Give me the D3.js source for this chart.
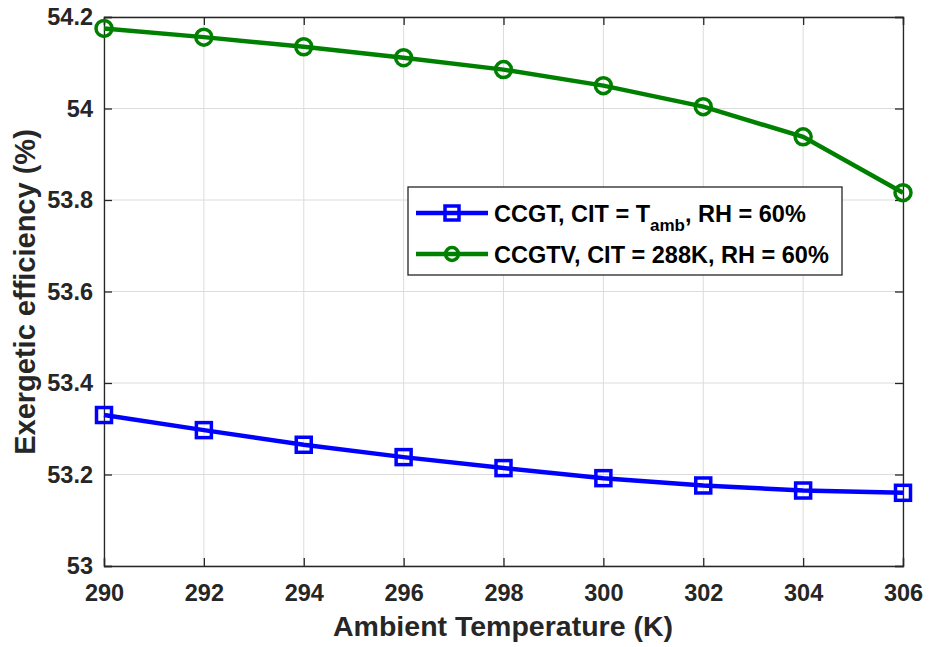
<!DOCTYPE html>
<html>
<head>
<meta charset="utf-8">
<script src="https://cdn.jsdelivr.net/npm/d3@7"></script>
<style>
  body { margin: 0; background: #fff; }
  svg { font-family: "Liberation Sans", Arial, sans-serif; }
</style>
</head>
<body>
<svg width="936" height="647"></svg>
<script>
var temps = [290, 292, 294, 296, 298, 300, 302, 304, 306];
var ccgt = [53.330, 53.297, 53.265, 53.238, 53.214, 53.192, 53.176, 53.165, 53.160];
var ccgtv = [54.175, 54.156, 54.135, 54.111, 54.085, 54.050, 54.004, 53.938, 53.816];
var xTicks = [290, 292, 294, 296, 298, 300, 302, 304, 306];
var yTicks = [53, 53.2, 53.4, 53.6, 53.8, 54, 54.2];

var margin = {left: 104, top: 17, right: 33, bottom: 81};
var width = 936 - margin.left - margin.right;
var height = 647 - margin.top - margin.bottom;

var svg = d3.select("svg");
var g = svg.append("g").attr("transform", "translate(" + margin.left + "," + margin.top + ")");

var x = d3.scaleLinear().domain([290, 306]).range([0, width]);
var y = d3.scaleLinear().domain([53, 54.2]).range([height, 0]);

// grid
g.selectAll(".gx").data(xTicks).enter().append("line")
    .attr("x1", function(d) { return x(d); }).attr("x2", function(d) { return x(d); })
    .attr("y1", 0).attr("y2", height)
    .style("stroke", "#dcdcdc").style("stroke-width", 1);
g.selectAll(".gy").data(yTicks).enter().append("line")
    .attr("x1", 0).attr("x2", width)
    .attr("y1", function(d) { return y(d); }).attr("y2", function(d) { return y(d); })
    .style("stroke", "#dcdcdc").style("stroke-width", 1);

// axes
var xAxis = d3.axisBottom(x).tickValues(xTicks).tickSize(-8).tickPadding(18).tickFormat(d3.format("d"));
var xAxisTop = d3.axisTop(x).tickValues(xTicks).tickSize(-8).tickFormat("");
var yAxis = d3.axisLeft(y).tickValues(yTicks).tickSize(-8).tickPadding(11).tickFormat(function(d) { return +d.toFixed(1); });
var yAxisRight = d3.axisRight(y).tickValues(yTicks).tickSize(-8).tickFormat("");

function styleAxis(sel) {
    sel.select(".domain").style("stroke", "#262626").style("stroke-width", 1.3);
    sel.selectAll(".tick line").style("stroke", "#262626").style("stroke-width", 1.3);
    sel.selectAll("text").style("fill", "#262626").style("font-size", "23.5px").style("font-weight", "bold");
}
g.append("g").attr("transform", "translate(0," + height + ")").call(xAxis).call(styleAxis);
g.append("g").call(xAxisTop).call(styleAxis);
g.append("g").call(yAxis).call(styleAxis);
g.append("g").attr("transform", "translate(" + width + ",0)").call(yAxisRight).call(styleAxis);

// lines
var line = d3.line().x(function(d, i) { return x(temps[i]); }).y(function(d) { return y(d); });

g.append("path").datum(ccgt).attr("d", line)
    .style("fill", "none").style("stroke", "#0000ff").style("stroke-width", 4.5);
g.append("path").datum(ccgtv).attr("d", line)
    .style("fill", "none").style("stroke", "#008000").style("stroke-width", 4.5);

g.selectAll(".sq").data(ccgt).enter().append("rect")
    .attr("x", function(d, i) { return x(temps[i]) - 7.5; })
    .attr("y", function(d) { return y(d) - 7.5; })
    .attr("width", 15).attr("height", 15)
    .style("fill", "none").style("stroke", "#0000ff").style("stroke-width", 3.5);
g.selectAll(".ci").data(ccgtv).enter().append("circle")
    .attr("cx", function(d, i) { return x(temps[i]); })
    .attr("cy", function(d) { return y(d); })
    .attr("r", 8)
    .style("fill", "none").style("stroke", "#008000").style("stroke-width", 3.5);

// axis labels
svg.append("text")
    .attr("x", 503).attr("y", 636)
    .attr("text-anchor", "middle")
    .style("font-size", "28.5px").style("font-weight", "bold").style("fill", "#262626")
    .text("Ambient Temperature (K)");
svg.append("text")
    .attr("transform", "translate(35,292) rotate(-90)")
    .attr("text-anchor", "middle")
    .style("font-size", "29px").style("font-weight", "bold").style("fill", "#262626")
    .text("Exergetic efficiency (%)");

// legend
var lg = svg.append("g").attr("transform", "translate(408,187)");
lg.append("rect").attr("width", 434).attr("height", 88)
    .style("fill", "#fff").style("stroke", "#262626").style("stroke-width", 1.3);

var l1 = lg.append("g").attr("transform", "translate(0,26)");
l1.append("line").attr("x1", 8).attr("x2", 80).style("stroke", "#0000ff").style("stroke-width", 4.5);
l1.append("rect").attr("x", 37).attr("y", -7).attr("width", 14).attr("height", 14)
    .style("fill", "none").style("stroke", "#0000ff").style("stroke-width", 3.5);
var t1 = l1.append("text").attr("x", 86).attr("y", 9)
    .style("font-size", "23.5px").style("font-weight", "bold").style("fill", "#000");
t1.append("tspan").text("CCGT, CIT = T");
t1.append("tspan").attr("dy", 9).style("font-size", "17px").text("amb");
t1.append("tspan").attr("dy", -9).text(", RH = 60%");

var l2 = lg.append("g").attr("transform", "translate(0,67)");
l2.append("line").attr("x1", 8).attr("x2", 80).style("stroke", "#008000").style("stroke-width", 4.5);
l2.append("circle").attr("cx", 44).attr("cy", 0).attr("r", 6.5)
    .style("fill", "none").style("stroke", "#008000").style("stroke-width", 3.5);
l2.append("text").attr("x", 86).attr("y", 9)
    .style("font-size", "23.5px").style("font-weight", "bold").style("fill", "#000")
    .text("CCGTV, CIT = 288K, RH = 60%");
</script>
</body>
</html>
